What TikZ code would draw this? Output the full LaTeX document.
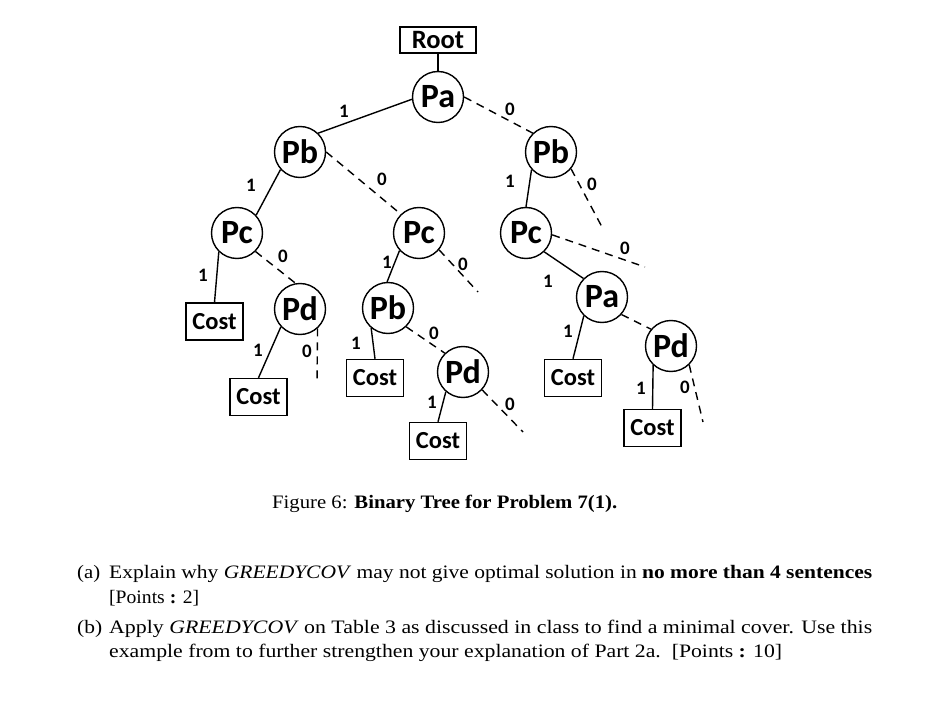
\documentclass[tikz,border=0pt]{standalone}
\usepackage{fontspec}
\setmainfont{Liberation Serif}
\newfontfamily\calfont{Carlito}
\usepackage{graphicx}
\begin{document}
\begin{tikzpicture}[x=1pt,y=-1pt]
\tikzset{
 pnode/.style={draw, circle, line width=1.4pt, minimum size=51pt, inner sep=0pt, font=\calfont\bfseries\fontsize{34}{36}\selectfont},
 costbox/.style={draw, rectangle, line width=1.4pt, minimum width=57pt, minimum height=37pt, inner sep=0pt, font=\calfont\bfseries\fontsize{24.5}{28}\selectfont},
 rootbox/.style={draw, rectangle, line width=1.4pt, minimum width=76pt, minimum height=26pt, inner sep=0pt, font=\calfont\bfseries\fontsize{26.5}{30}\selectfont},
 yes/.style={line width=1.4pt},
 no/.style={line width=1.4pt, dash pattern=on 8pt off 6pt},
 lbl/.style={font=\calfont\bfseries\fontsize{19}{21}\selectfont, inner sep=0pt},
 txt/.style={anchor=base west, inner sep=0pt, font=\fontsize{19}{22}\selectfont},
}
\useasboundingbox[fill=white] (0,0) rectangle (931,711);

% nodes
\node[rootbox] (root) at (438,40) {Root};
\node[pnode] (pa)  at (438,97)  {Pa};
\node[pnode] (pbl) at (300,152) {Pb};
\node[pnode] (pbr) at (551,152) {Pb};
\node[pnode] (pcl) at (237,233) {Pc};
\node[pnode] (pcm) at (419,233) {Pc};
\node[pnode] (pcr) at (526,233) {Pc};
\node[pnode] (pdl) at (300,309) {Pd};
\node[pnode] (pbm) at (388,308) {Pb};
\node[pnode] (pdm) at (463,372) {Pd};
\node[pnode] (par) at (602,297) {Pa};
\node[pnode] (pdr) at (671,346) {Pd};

\node[costbox] (c1) at (214.5,321.5) {Cost};
\node[costbox] (c2) at (258.5,397) {Cost};
\node[costbox] (c3) at (375,378) {Cost};
\node[costbox] (c4) at (438,441) {Cost};
\node[costbox] (c5) at (573,378) {Cost};
\node[costbox] (c6) at (652.5,428) {Cost};

% free ends
\coordinate (e1) at (602,227);
\coordinate (e2) at (645,267);
\coordinate (e3) at (478,292);
\coordinate (e4) at (317,384);
\coordinate (e5) at (523,432);
\coordinate (e6) at (703,422);

% edges
\draw[yes] (root.south) -- (pa.north);
\draw[yes] (pa.185) -- (pbl.46);
\draw[no]  (pa.0) -- (pbr.134);
\draw[yes] (pbl.-138) -- (pcl.43);
\draw[no]  (pbl.0) -- (pcm.134);
\draw[yes] (pbr.-138) -- (pcr.north);
\draw[no]  (pbr.-40) -- (e1);
\draw[no]  (pcr.-4) -- (e2);
\draw[yes] (pcr.-46) -- (par.135);
\draw[yes] (par.-134) -- (c5.north);
\draw[no]  (par.-42) -- (pdr.140);
\draw[yes] (pdr.-133) -- (c6.north);
\draw[no]  (pdr.-46) -- (e6);
\draw[yes] (pcl.-134) -- (c1.north);
\draw[no]  (pcl.-45) -- (pdl.100);
\draw[yes] (pdl.-137) -- (c2.north);
\draw[no]  (pdl.-48) -- (e4);
\draw[yes] (pcm.-138) -- (pbm.92);
\draw[no]  (pcm.-40) -- (e3);
\draw[yes] (pbm.-130) -- (c3.north);
\draw[no]  (pbm.-46) -- (pdm.134);
\draw[yes] (pdm.-131) -- (c4.north);
\draw[no]  (pdm.-43) -- (e5);

% edge labels
\node[lbl] (l1)  at (344,111) {1};
\node[lbl] (l2)  at (510,109) {0};
\node[lbl] (l3)  at (251,185) {1};
\node[lbl] (l4)  at (382,179) {0};
\node[lbl] (l5)  at (510,181) {1};
\node[lbl] (l6)  at (592,184) {0};
\node[lbl] (l7)  at (625,248) {0};
\node[lbl] (l8)  at (548,281) {1};
\node[lbl] (l9)  at (568,331) {1};
\node[lbl] (l10) at (641,388) {1};
\node[lbl] (l11) at (685,387) {0};
\node[lbl] (l12) at (510,404) {0};
\node[lbl] (l13) at (203,275) {1};
\node[lbl] (l14) at (283,256) {0};
\node[lbl] (l15) at (258,350) {1};
\node[lbl] (l16) at (307,351) {0};
\node[lbl] (l17) at (387,262) {1};
\node[lbl] (l18) at (463,264) {0};
\node[lbl] (l19) at (356,343) {1};
\node[lbl] (l20) at (434,333) {0};
\node[lbl] (l21) at (432,402) {1};

% caption and text
\node[txt] (cap) at (272,508) {\resizebox{345pt}{\height}{Figure 6: \textbf{Binary Tree for Problem 7(1).}}};
\node[txt] (ta)  at (77,578) {\resizebox{23pt}{\height}{(a)}};
\node[txt] (ta1) at (109,578) {\resizebox{763pt}{\height}{Explain why \textit{GREEDYCOV} may not give optimal solution in \textbf{no more than 4 sentences}}};
\node[txt] (ta2) at (109,603) {\resizebox{90pt}{\height}{[Points \textbf{:} 2]}};
\node[txt] (tb)  at (77,633) {\resizebox{25pt}{\height}{(b)}};
\node[txt] (tb1) at (109,633) {\resizebox{763pt}{\height}{Apply \textit{GREEDYCOV} on Table 3 as discussed in class to find a minimal cover. Use this}};
\node[txt] (tb2) at (109,657) {\resizebox{673pt}{\height}{example from to further strengthen your explanation of Part 2a.\ \ [Points \textbf{:} 10]}};
\end{tikzpicture}
\end{document}
